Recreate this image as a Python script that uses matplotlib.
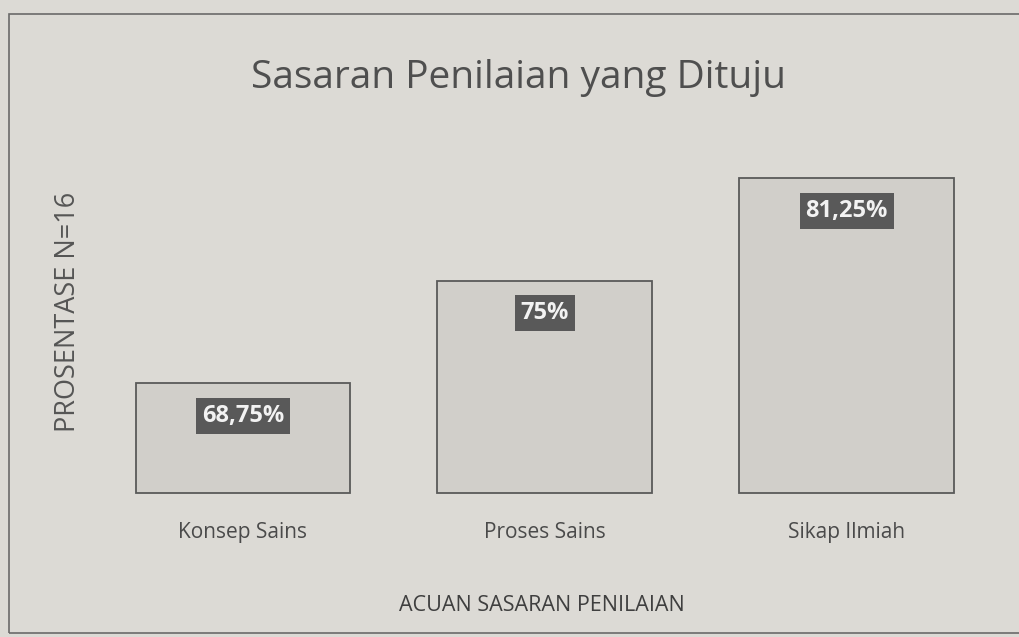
import matplotlib
matplotlib.use("Agg")
import matplotlib.pyplot as plt
from matplotlib.patches import Rectangle

categories = ["Konsep Sains", "Proses Sains", "Sikap Ilmiah"]
values = [68.75, 75.0, 81.25]
value_labels = ["68,75%", "75%", "81,25%"]
title = "Sasaran Penilaian yang Dituju"
xlabel = "ACUAN SASARAN PENILAIAN"
ylabel = "PROSENTASE N=16"
baseline = 62.0

plt.rcParams['font.family'] = ['Open Sans', 'DejaVu Sans']

bg = "#dcdad5"
fig = plt.figure(figsize=(10.2, 6.37), dpi=100, facecolor=bg)
ax = fig.add_axes([0.09, 0.224, 0.888, 0.542])
ax.set_facecolor(bg)

x = list(range(len(categories)))
ax.bar(x, [v - baseline for v in values], width=0.71, bottom=baseline,
       color="#d1cfca", edgecolor="#5a5a5a", linewidth=1.3, clip_on=False)
ax.set_xlim(-0.5, 2.5)
ax.set_ylim(baseline - 0.05, 83.04)

for xi, v, lab in zip(x, values, value_labels):
    ax.annotate(lab, xy=(xi, v), xytext=(0, -23.5), textcoords="offset points",
                ha="center", va="center", color="#f2f2f2", fontsize=17, fontweight="bold",
                bbox=dict(boxstyle="square,pad=0.25", fc="#595959", ec="none"))

for s in ax.spines.values():
    s.set_visible(False)
ax.set_yticks([])
ax.set_xticks(x)
ax.set_xticklabels(categories, fontsize=15, color="#4a4a4a")
ax.tick_params(axis="x", length=0, pad=20)

fig.text(0.508, 0.878, title, ha="center", va="center", fontsize=28, color="#4f4f4f")
fig.text(0.531, 0.05, xlabel, ha="center", va="center", fontsize=15.5, color="#3f3f3f")
fig.text(0.067, 0.51, ylabel, ha="center", va="center", rotation=90, fontsize=19.5, color="#555555")

fig.patches.append(Rectangle((0.009, 0.006), 1.2, 0.972, transform=fig.transFigure,
                             fill=False, edgecolor="#6a6a6a", linewidth=1.2))

fig.savefig("out.png", dpi=100, facecolor=bg)
